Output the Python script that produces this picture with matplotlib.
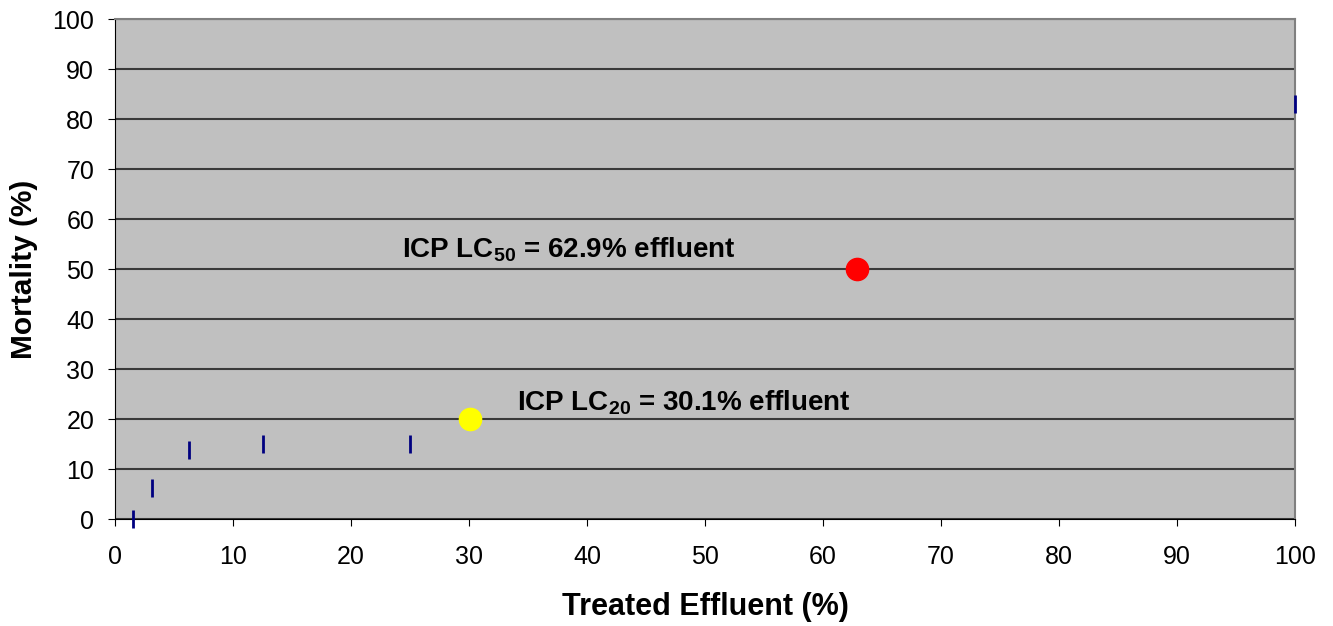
import matplotlib.pyplot as plt

plt.rcParams['font.family'] = ['Liberation Sans', 'DejaVu Sans']
plt.rcParams['mathtext.fontset'] = 'custom'
plt.rcParams['mathtext.rm'] = 'Liberation Sans'
plt.rcParams['mathtext.bf'] = 'Liberation Sans:bold'

# observed mortality
conc = [1.56, 3.125, 6.25, 12.5, 25, 100]
mortality = [0, 6.3, 13.8, 15, 15, 83]

# ICP estimates
lc50 = (62.9, 50)
lc20 = (30.1, 20)

fig = plt.figure(figsize=(13.33, 6.26), dpi=100)
ax = fig.add_axes([0.0863, 0.1709, 0.8852, 0.7987])
ax.set_facecolor('#C0C0C0')

ax.plot(conc, mortality, linestyle='none', marker='|', markersize=13,
        markeredgewidth=2, color='#000080', zorder=3, clip_on=False)
ax.plot(*lc50, 'o', color='#FF0000', markersize=16, zorder=4)
ax.plot(*lc20, 'o', color='#FFFF00', markersize=16, zorder=4)

ax.text(24.3, 52.4, 'ICP LC$_{\\mathbf{50}}$ = 62.9% effluent', fontsize=20,
        fontweight='bold', va='baseline', ha='left')
ax.text(34.1, 21.8, 'ICP LC$_{\\mathbf{20}}$ = 30.1% effluent', fontsize=20,
        fontweight='bold', va='baseline', ha='left')

ax.set_xlim(0, 100)
ax.set_ylim(0, 100)
ax.set_xticks(range(0, 101, 10))
ax.set_yticks(range(0, 101, 10))
ax.yaxis.grid(True, color='#3a3a3a', linewidth=1.5)
ax.set_axisbelow(True)
ax.tick_params(direction='out', length=5, labelsize=18, color='black')
ax.tick_params(axis='y', pad=10)
ax.tick_params(axis='x', pad=14)

ax.set_xlabel('Treated Effluent (%)', fontsize=22, fontweight='bold', labelpad=16)
ax.set_ylabel('Mortality (%)', fontsize=21.5, fontweight='bold', labelpad=10)

for s in ['top', 'right']:
    ax.spines[s].set_color('#808080')
    ax.spines[s].set_linewidth(1.5)
for s in ['left', 'bottom']:
    ax.spines[s].set_color('black')

plt.savefig('out.png')
